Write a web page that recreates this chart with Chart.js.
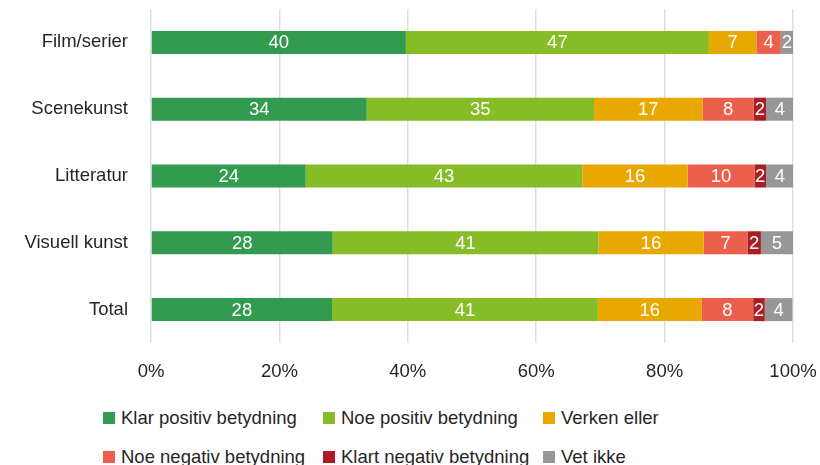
<!DOCTYPE html>
<html>
<head>
<meta charset="utf-8">
<script src="https://cdn.jsdelivr.net/npm/chart.js@4.4.1/dist/chart.umd.min.js"></script>
<style>
  html, body { margin: 0; padding: 0; background: #fff; overflow: hidden; }
  body { width: 820px; height: 465px; position: relative; font-family: "Liberation Sans", Arial, sans-serif; }
  #wrap { position: absolute; left: 0; top: 0; width: 820px; height: 395px; }
  #legend {
    position: absolute; left: 103px; top: 406px;
    display: grid; grid-template-columns: 220px 220px 220px; row-gap: 15px;
    font-size: 18.5px; color: #262626; line-height: 24px;
  }
  .item { display: flex; align-items: center; white-space: nowrap; }
  .box { width: 12px; height: 12px; margin-right: 6px; flex: none; }
</style>
</head>
<body>
<div id="wrap"><canvas id="chart" width="820" height="395"></canvas></div>
<div id="legend"></div>
<script>
const categories = ['Film/serier', 'Scenekunst', 'Litteratur', 'Visuell kunst', 'Total'];
const seriesNames = ['Klar positiv betydning', 'Noe positiv betydning', 'Verken eller',
  'Noe negativ betydning', 'Klart negativ betydning', 'Vet ikke'];
const klarPositiv = [39.7, 33.6, 24.1, 28.3, 28.2];
const noePositiv = [47.2, 35.4, 43.1, 41.4, 41.4];
const verkenEller = [7.4, 16.9, 16.4, 16.4, 16.2];
const noeNegativ = [3.8, 8.0, 10.4, 6.8, 8.0];
const klartNegativ = [0, 1.9, 1.8, 2.1, 1.8];
const vetIkke = [1.9, 4.3, 4.3, 5.0, 4.3];
const tickValues = [0, 20, 40, 60, 80, 100];
const colors = ['#329b50', '#86bc25', '#e8a800', '#ec5f4c', '#aa1e23', '#979797'];

const values = [klarPositiv, noePositiv, verkenEller, noeNegativ, klartNegativ, vetIkke];
const font = { family: '"Liberation Sans", Arial, sans-serif', size: 18.5 };

const segmentLabels = {
  id: 'segmentLabels',
  afterDatasetsDraw(chart) {
    const ctx = chart.ctx;
    ctx.save();
    ctx.fillStyle = '#ffffff';
    ctx.font = '18.5px "Liberation Sans", Arial, sans-serif';
    ctx.textAlign = 'center';
    ctx.textBaseline = 'middle';
    chart.data.datasets.forEach((ds, i) => {
      chart.getDatasetMeta(i).data.forEach((bar, j) => {
        const v = Math.round(ds.data[j]);
        if (!v) return;
        const p = bar.getProps(['x', 'y', 'base'], true);
        ctx.fillText(String(v), (p.x + p.base) / 2, p.y + 1);
      });
    });
    ctx.restore();
  }
};

new Chart(document.getElementById('chart'), {
  type: 'bar',
  data: {
    labels: categories,
    datasets: seriesNames.map((name, i) => ({
      label: name,
      data: values[i],
      backgroundColor: colors[i],
      borderWidth: 0,
      categoryPercentage: 1,
      barPercentage: 0.345
    }))
  },
  options: {
    indexAxis: 'y',
    responsive: false,
    animation: false,
    layout: { padding: { top: 9, right: 27, left: 0, bottom: 0 } },
    plugins: { legend: { display: false }, tooltip: { enabled: false } },
    scales: {
      x: {
        stacked: true,
        min: 0,
        max: 100,
        afterBuildTicks: s => { s.ticks = tickValues.map(v => ({ value: v })); },
        afterFit: s => {
          s.height = 52;
          s.paddingLeft = 0; s.paddingRight = 0; s.paddingTop = 0; s.paddingBottom = 0;
        },
        ticks: { callback: v => v + '%', font: font, color: '#262626', padding: 18, maxRotation: 0 },
        grid: { color: '#dedede', lineWidth: 1.5, drawTicks: false },
        border: { display: false }
      },
      y: {
        stacked: true,
        afterFit: s => {
          s.width = 151;
          s.paddingLeft = 0; s.paddingRight = 0; s.paddingTop = 0; s.paddingBottom = 0;
        },
        ticks: { font: font, color: '#262626', padding: 23 },
        grid: { display: false, drawTicks: false },
        border: { display: false }
      }
    }
  },
  plugins: [segmentLabels]
});

const legend = document.getElementById('legend');
seriesNames.forEach((name, i) => {
  const item = document.createElement('div');
  item.className = 'item';
  const box = document.createElement('span');
  box.className = 'box';
  box.style.background = colors[i];
  const txt = document.createElement('span');
  txt.textContent = name;
  item.appendChild(box);
  item.appendChild(txt);
  legend.appendChild(item);
});
</script>
</body>
</html>
